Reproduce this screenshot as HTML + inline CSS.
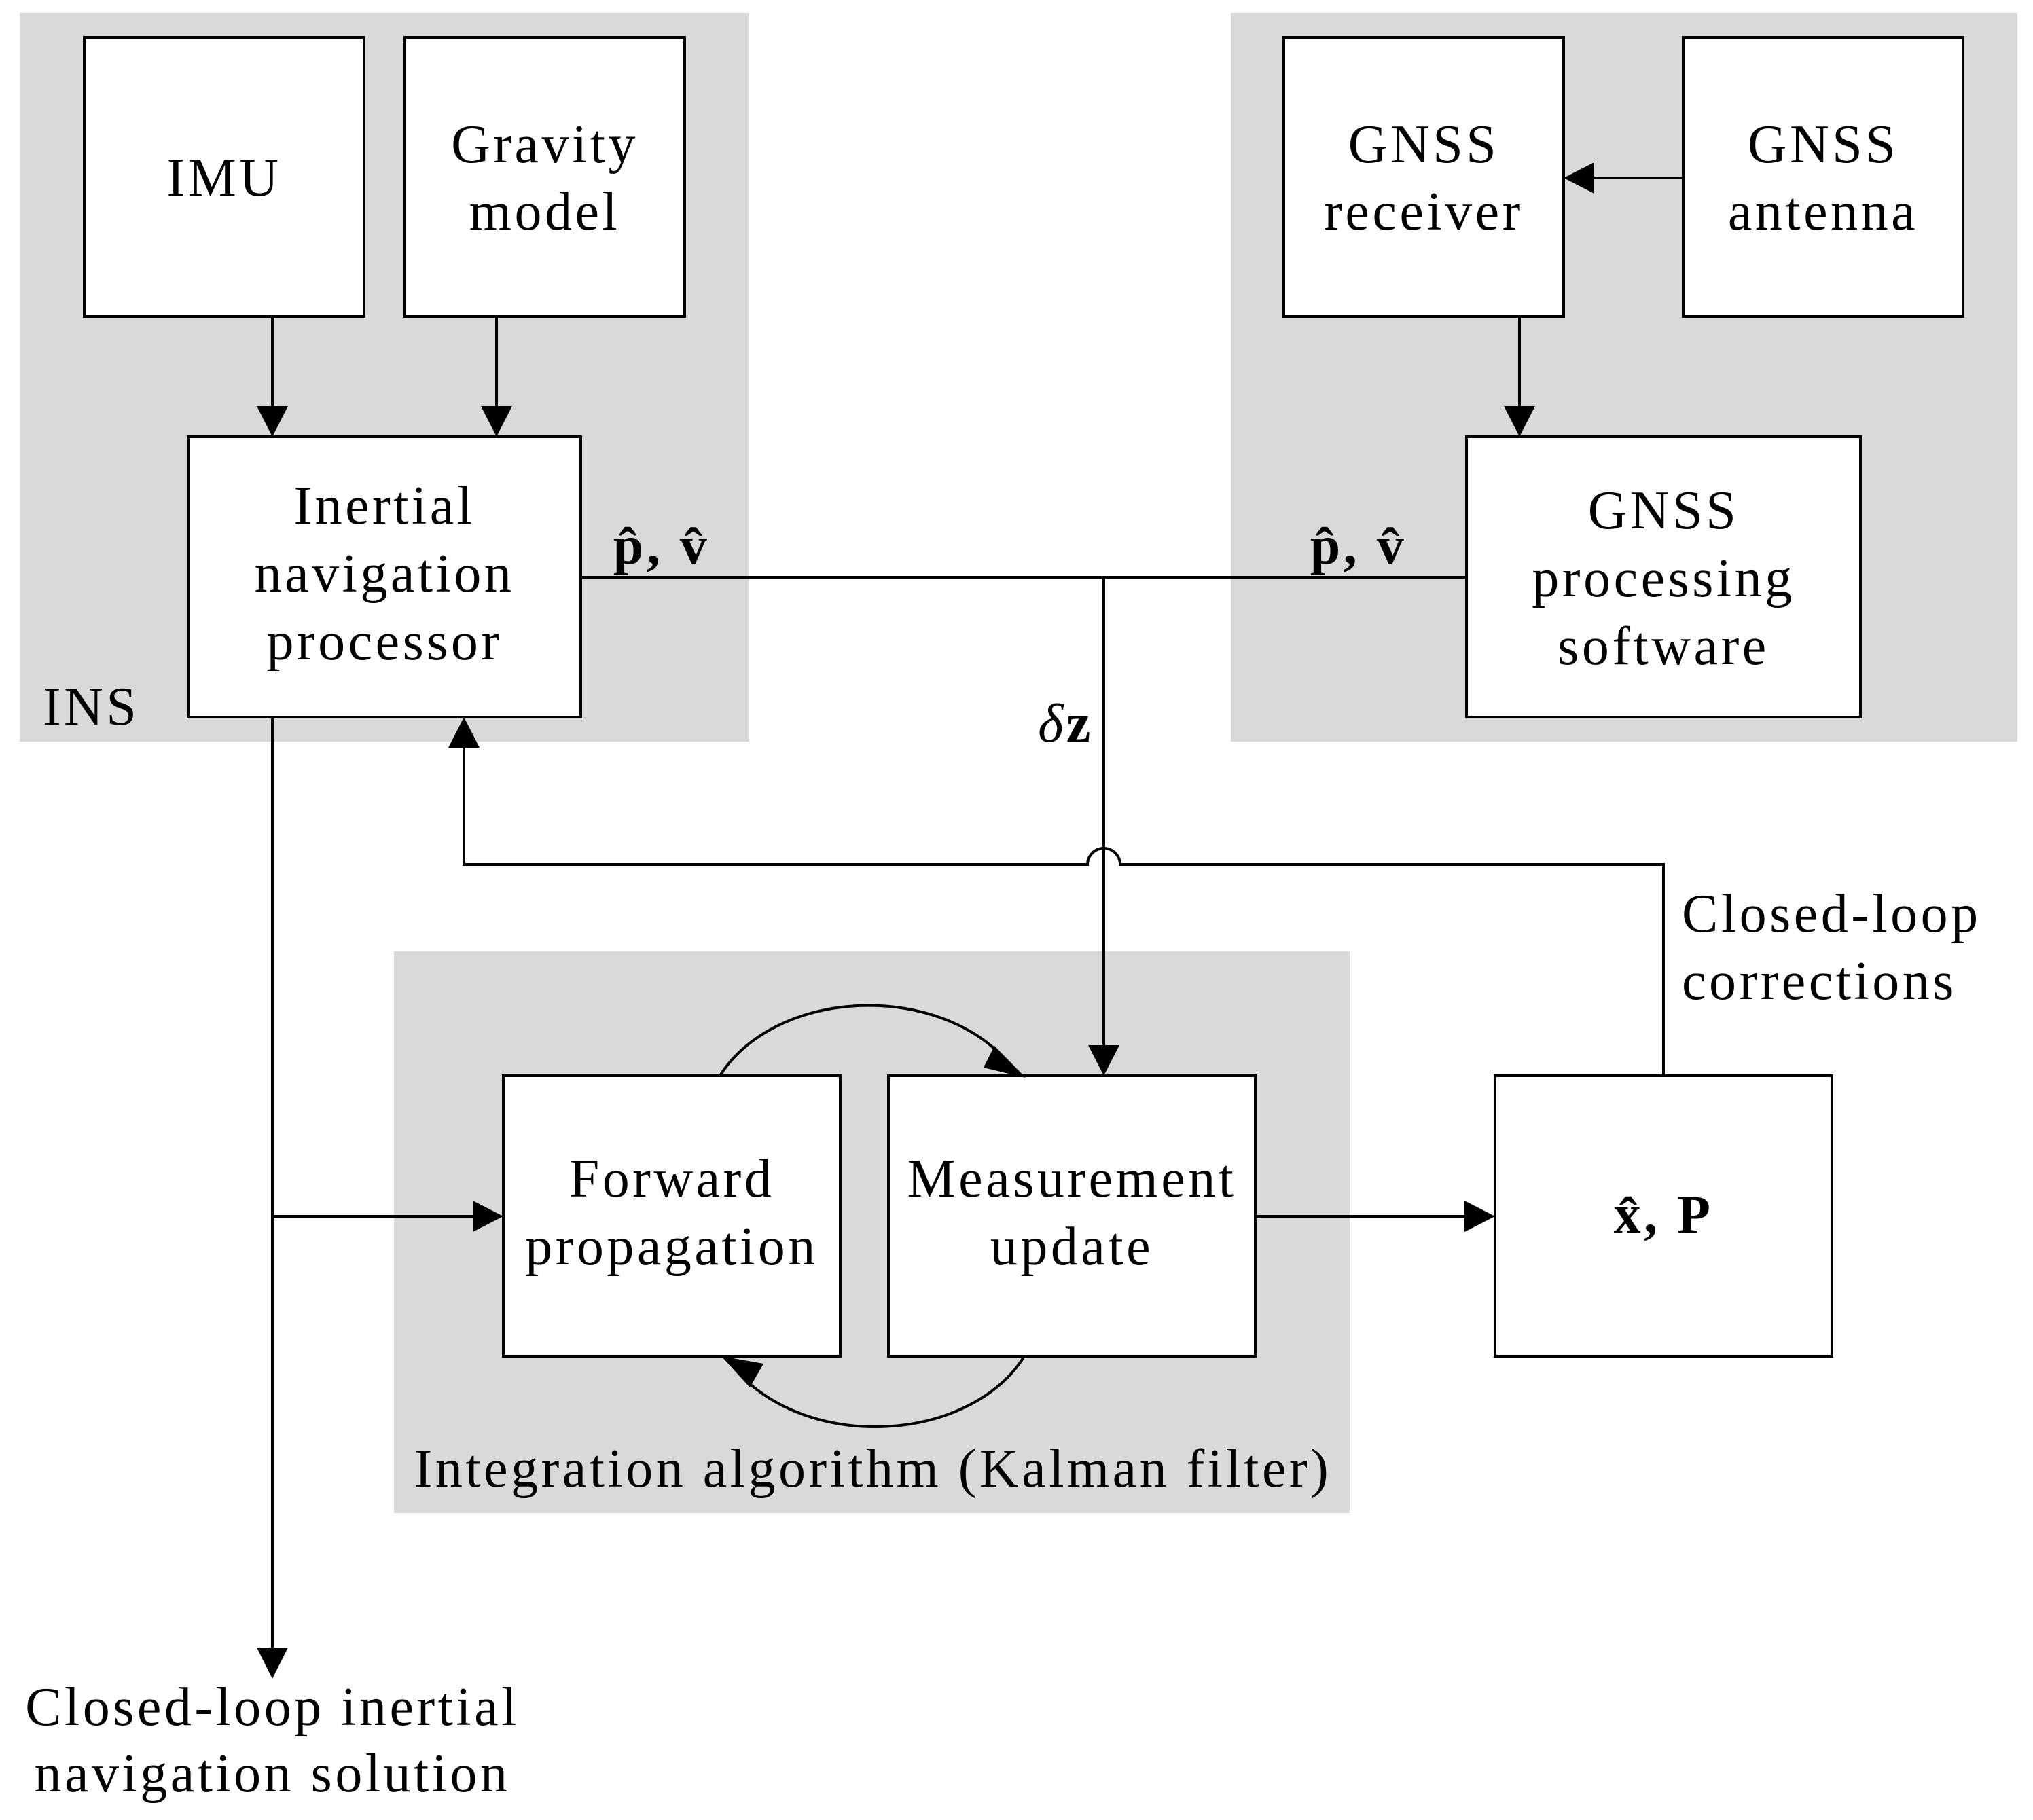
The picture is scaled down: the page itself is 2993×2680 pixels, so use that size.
<!DOCTYPE html>
<html><head><meta charset="utf-8"><style>
html,body{margin:0;padding:0;background:#fff}
svg{display:block}
text{font-family:"Liberation Serif",serif;font-size:80px;letter-spacing:4.5px;fill:#000}
</style></head><body>
<svg width="2993" height="2680" viewBox="0 0 2993 2680" xmlns="http://www.w3.org/2000/svg">
<rect x="29" y="19" width="1074" height="1073" fill="#d9d9d9"/>
<rect x="1812" y="19" width="1158" height="1073" fill="#d9d9d9"/>
<rect x="580" y="1401" width="1407" height="827" fill="#d9d9d9"/>
<g fill="#fff" stroke="#000" stroke-width="4">
<rect x="124" y="55" width="412" height="411"/>
<rect x="596" y="55" width="412" height="411"/>
<rect x="277" y="643" width="578" height="413"/>
<rect x="1890" y="55" width="412" height="411"/>
<rect x="2478" y="55" width="412" height="411"/>
<rect x="2159" y="643" width="580" height="413"/>
<rect x="741" y="1584" width="496" height="413"/>
<rect x="1308" y="1584" width="540" height="413"/>
<rect x="2201" y="1584" width="496" height="413"/>
</g>
<g fill="none" stroke="#000" stroke-width="4">
<line x1="401" y1="466" x2="401" y2="600"/>
<line x1="731" y1="466" x2="731" y2="600"/>
<line x1="2237" y1="466" x2="2237" y2="600"/>
<line x1="2478" y1="262" x2="2345" y2="262"/>
<line x1="855" y1="850" x2="2159" y2="850"/>
<line x1="1625" y1="850" x2="1625" y2="1540"/>
<path d="M2449 1584 V1273 H1649 A24 24 0 0 0 1601 1273 H683 V1100"/>
<line x1="401" y1="1056" x2="401" y2="2428"/>
<line x1="401" y1="1791" x2="697" y2="1791"/>
<line x1="1848" y1="1791" x2="2157" y2="1791"/>
<path d="M1060 1584 A240 175 0 0 1 1480 1560"/>
<path d="M1508 1997 A240 175 0 0 1 1088 2022"/>
</g>
<g fill="#000">
<polygon points="378,598 424,598 401,643"/>
<polygon points="708,598 754,598 731,643"/>
<polygon points="2214,598 2260,598 2237,643"/>
<polygon points="2347,239 2347,285 2302,262"/>
<polygon points="1602,1539 1648,1539 1625,1584"/>
<polygon points="660,1101 706,1101 683,1056"/>
<polygon points="378,2426 424,2426 401,2472"/>
<polygon points="696,1768 696,1814 741,1791"/>
<polygon points="2156,1768 2156,1814 2201,1791"/>
<polygon points="1464,1540 1510,1587 1448,1572"/>
<polygon points="1104,2043 1062,1997 1124,2008"/>
</g>
<g text-anchor="middle" dominant-baseline="central">
<text x="330" y="262">IMU</text>
<text x="802" y="213">Gravity</text><text x="802" y="312">model</text>
<text x="566" y="745">Inertial</text><text x="566" y="845">navigation</text><text x="566" y="945">processor</text>
<text x="2096" y="213">GNSS</text><text x="2096" y="312">receiver</text>
<text x="2684" y="213">GNSS</text><text x="2684" y="312">antenna</text>
<text x="2449" y="752">GNSS</text><text x="2449" y="852">processing</text><text x="2449" y="952">software</text>
<text x="989" y="1736">Forward</text><text x="989" y="1836">propagation</text>
<text x="1578" y="1736">Measurement</text><text x="1578" y="1836">update</text>
<text x="2449" y="1789" font-weight="bold">x̂, P</text>
<text x="974" y="804" font-weight="bold">p̂, v̂</text>
<text x="2000" y="804" font-weight="bold">p̂, v̂</text>
<text x="1569" y="1066"><tspan font-style="italic">δ</tspan><tspan font-weight="bold">z</tspan></text>
<text x="1285" y="2163">Integration algorithm (Kalman filter)</text>
<text x="401" y="2514">Closed-loop inertial</text>
<text x="401" y="2612">navigation solution</text>
</g>
<g dominant-baseline="central">
<text x="2476" y="1346">Closed-loop</text>
<text x="2476" y="1445">corrections</text>
<text x="63" y="1041">INS</text>
</g>
</svg>
</body></html>
